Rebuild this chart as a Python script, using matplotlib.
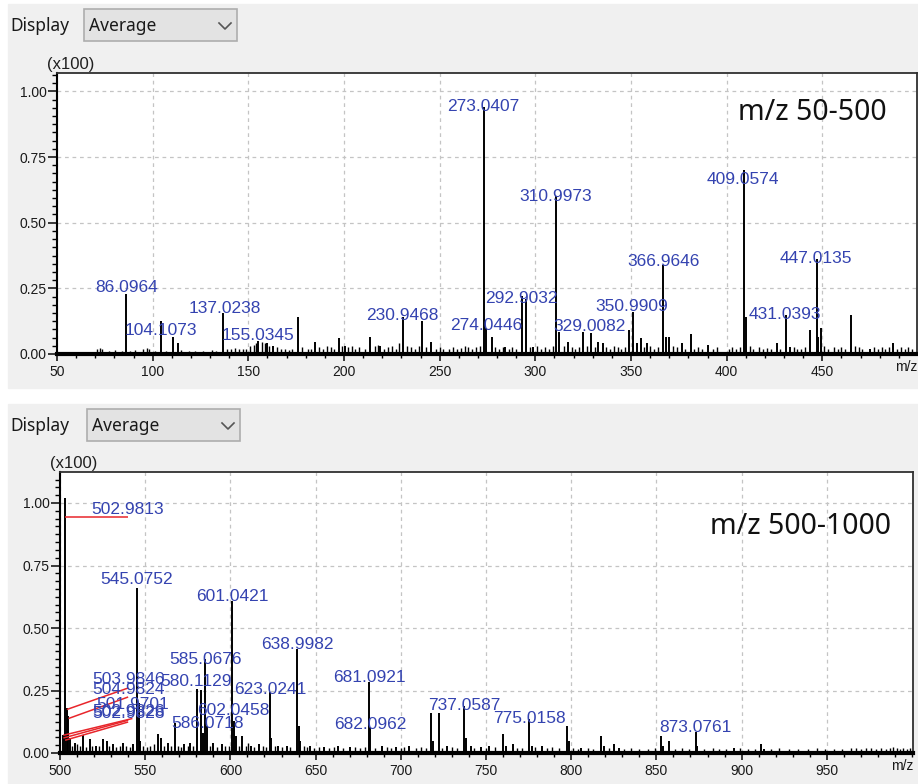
import matplotlib
matplotlib.use('Agg')
import matplotlib.pyplot as plt
from matplotlib.lines import Line2D
from matplotlib.patches import Rectangle
from matplotlib.ticker import MultipleLocator

W, H = 918, 784

# ---------------- m/z 50-500 ----------------
top_mz = [86.0964, 104.1073, 110.8, 113.1, 137.0238, 155.0345, 159.6, 163.0, 175.8, 184.8,
          197.4, 200.7, 213.6, 219.0, 230.9468, 240.6, 245.6, 273.0407, 274.0446, 277.2,
          284.1, 292.9032, 294.9, 298.9, 310.9973, 312.4, 317.3, 325.1, 329.0082, 332.9,
          335.5, 349.0, 350.9909, 353.0, 355.2, 358.2, 366.9646, 368.1, 369.7, 376.5,
          381.2, 390.4, 409.0574, 410.06, 426.1, 431.0393, 433.1, 443.5, 447.0135, 448.0,
          449.1, 464.8, 474.9, 487.1]
top_int = [0.23, 0.125, 0.066, 0.04, 0.157, 0.05, 0.04, 0.03, 0.14, 0.045,
           0.06, 0.03, 0.066, 0.03, 0.14, 0.125, 0.045, 0.94, 0.10, 0.066,
           0.028, 0.22, 0.21, 0.025, 0.60, 0.085, 0.047, 0.085, 0.079, 0.047,
           0.04, 0.09, 0.16, 0.04, 0.06, 0.04, 0.34, 0.066, 0.066, 0.04,
           0.076, 0.035, 0.70, 0.14, 0.04, 0.15, 0.025, 0.09, 0.36, 0.066,
           0.098, 0.149, 0.02, 0.04]

# small peaks making up the baseline
top_noise_mz = [70.9, 72.3, 73.5, 77.0, 80.5, 84.1, 88.0, 91.0, 95.2, 96.9, 98.1, 101.0, 106.9,
                115.0, 118.9, 122.0, 126.1, 130.9, 133.0, 139.0, 141.0, 143.1, 145.0, 147.1,
                149.0, 151.0, 153.0, 154.0, 157.0, 158.9, 161.0, 165.0, 167.1, 169.0, 171.0,
                173.0, 178.0, 181.0, 183.0, 187.0, 189.0, 191.0, 193.0, 195.0, 199.0, 202.0,
                204.0, 206.0, 208.0, 211.0, 216.0, 218.0, 221.0, 223.0, 225.0, 227.0, 229.0,
                233.0, 235.0, 237.0, 239.0, 243.0, 248.0, 250.0, 252.0, 255.0, 257.0, 259.0,
                261.0, 263.0, 265.0, 267.0, 269.0, 271.0, 279.0, 281.0, 283.0, 286.0, 288.0,
                290.0, 297.0, 301.0, 303.0, 305.0, 307.0, 309.0, 315.0, 319.0, 321.0, 323.0,
                327.0, 331.0, 337.0, 339.0, 341.0, 343.0, 345.0, 347.0, 357.0, 360.0, 362.0,
                364.0, 372.0, 374.0, 378.0, 383.0, 385.0, 387.0, 393.0, 395.0, 401.0, 403.0,
                405.0, 407.0, 412.0, 414.0, 417.0, 419.0, 421.0, 423.0, 428.0, 435.0, 437.0,
                439.0, 441.0, 451.0, 453.0, 456.0, 458.0, 460.0, 462.0, 467.0, 469.0, 471.0,
                477.0, 479.0, 481.0, 483.0, 485.0, 489.0, 491.0, 493.0, 495.0, 497.0]
top_noise_int = [0.02, 0.022, 0.018, 0.012, 0.015, 0.01, 0.012, 0.015, 0.02, 0.022, 0.018, 0.01, 0.012,
                 0.015, 0.01, 0.012, 0.01, 0.015, 0.012, 0.02, 0.018, 0.022, 0.02, 0.018,
                 0.02, 0.03, 0.035, 0.04, 0.045, 0.04, 0.03, 0.025, 0.02, 0.02, 0.015,
                 0.02, 0.025, 0.02, 0.02, 0.025, 0.02, 0.03, 0.025, 0.02, 0.03, 0.025,
                 0.03, 0.02, 0.025, 0.02, 0.03, 0.035, 0.02, 0.025, 0.03, 0.02, 0.04,
                 0.03, 0.025, 0.02, 0.03, 0.025, 0.02, 0.025, 0.02, 0.02, 0.025, 0.02,
                 0.022, 0.03, 0.025, 0.02, 0.025, 0.03, 0.025, 0.02, 0.028, 0.02, 0.025,
                 0.02, 0.025, 0.03, 0.02, 0.025, 0.02, 0.03, 0.03, 0.025, 0.02, 0.025,
                 0.03, 0.025, 0.025, 0.02, 0.03, 0.025, 0.02, 0.025, 0.025, 0.03, 0.02,
                 0.025, 0.03, 0.025, 0.02, 0.02, 0.025, 0.02, 0.02, 0.025, 0.02, 0.025,
                 0.02, 0.025, 0.03, 0.02, 0.025, 0.02, 0.022, 0.02, 0.02, 0.025, 0.02,
                 0.02, 0.025, 0.03, 0.02, 0.025, 0.02, 0.025, 0.02, 0.03, 0.025, 0.02,
                 0.025, 0.02, 0.025, 0.02, 0.025, 0.02, 0.025, 0.02, 0.025, 0.02]

top_labels = ['86.0964', '104.1073', '137.0238', '155.0345', '230.9468', '273.0407', '274.0446',
              '292.9032', '310.9973', '329.0082', '350.9909', '366.9646', '409.0574', '431.0393',
              '447.0135']
# where the software put each label (data coords)
top_label_x = [86.4, 104.4, 137.6, 155.3, 230.5, 272.6, 274.5, 292.8, 310.8, 328.6, 350.6,
               366.9, 408.6, 430.2, 446.7]
top_label_y = [0.255, 0.091, 0.175, 0.069, 0.145, 0.941, 0.107, 0.213, 0.598, 0.104, 0.18,
               0.352, 0.663, 0.149, 0.362]

# ---------------- m/z 500-1000 ----------------
bot_mz = [501.97, 502.9813, 503.9846, 504.9824, 506.0, 508.9, 513.3, 517.6, 521.0, 525.4,
          527.4, 531.0, 537.2, 543.0, 545.0752, 546.08, 547.1, 557.7, 559.5, 563.6,
          567.7, 573.0, 576.0, 580.1129, 582.6, 584.0, 585.0676, 586.0718, 590.0, 595.0,
          601.0421, 602.0458, 603.0, 607.0, 612.0, 617.0, 623.0241, 624.0, 628.0, 633.0,
          638.9982, 640.0, 641.0, 647.0, 655.0, 663.0, 670.0, 681.0921, 682.0962, 689.0,
          697.0, 705.0, 717.6, 719.0, 722.2, 727.0, 737.0587, 738.0, 741.0, 747.0,
          752.0, 759.8, 762.0, 765.8, 775.0158, 776.9, 782.7, 797.6, 798.6, 806.0,
          817.4, 819.0, 825.4, 828.0, 852.6, 854.0, 857.6, 873.0761, 874.1, 895.6,
          911.5, 913.0]
bot_int = [0.072, 1.02, 0.18, 0.15, 0.06, 0.04, 0.071, 0.058, 0.03, 0.058,
           0.05, 0.035, 0.04, 0.035, 0.66, 0.20, 0.05, 0.078, 0.06, 0.04,
           0.12, 0.035, 0.04, 0.258, 0.251, 0.08, 0.378, 0.11, 0.04, 0.035,
           0.61, 0.13, 0.07, 0.07, 0.03, 0.035, 0.245, 0.06, 0.03, 0.03,
           0.418, 0.11, 0.05, 0.03, 0.025, 0.03, 0.025, 0.285, 0.10, 0.03,
           0.025, 0.03, 0.16, 0.05, 0.16, 0.03, 0.19, 0.06, 0.03, 0.025,
           0.03, 0.075, 0.03, 0.035, 0.138, 0.03, 0.03, 0.108, 0.05, 0.02,
           0.068, 0.03, 0.035, 0.02, 0.068, 0.03, 0.048, 0.084, 0.03, 0.02,
           0.035, 0.015]

bot_noise_mz = [507.0, 510.0, 511.5, 515.0, 519.0, 523.0, 529.0, 533.0, 535.0, 539.0, 541.0,
                549.0, 551.0, 553.0, 555.0, 561.0, 565.0, 569.5, 571.0, 575.0, 578.0, 588.0,
                592.0, 597.0, 599.0, 605.0, 609.0, 610.5, 614.0, 619.0, 621.0, 626.0, 630.0,
                635.0, 643.0, 645.0, 649.0, 652.0, 658.0, 661.0, 666.0, 673.0, 676.0, 679.0,
                685.0, 692.0, 694.0, 700.0, 702.0, 709.0, 712.0, 715.0, 724.0, 730.0, 733.0,
                743.0, 750.0, 755.0, 768.0, 771.0, 779.0, 786.0, 789.0, 793.0, 801.0, 804.0,
                810.0, 813.0, 822.0, 831.0, 835.0, 840.0, 845.0, 849.0, 861.0, 865.0, 869.0,
                878.0, 883.0, 887.0, 891.0, 899.0, 904.0, 908.0, 917.0, 922.0, 928.0, 933.0,
                939.0, 944.0, 949.0, 954.0, 959.0, 964.0, 967.0, 970.0, 973.0, 976.0, 979.0,
                982.0, 985.0, 987.0, 989.0, 991.0, 993.0, 995.0, 997.0, 999.0]
bot_noise_int = [0.03, 0.035, 0.03, 0.025, 0.03, 0.028, 0.03, 0.025, 0.03, 0.028, 0.025,
                 0.03, 0.025, 0.03, 0.035, 0.03, 0.028, 0.03, 0.025, 0.03, 0.03, 0.03,
                 0.025, 0.03, 0.028, 0.03, 0.03, 0.04, 0.025, 0.03, 0.025, 0.03, 0.025,
                 0.025, 0.03, 0.025, 0.02, 0.025, 0.02, 0.025, 0.02, 0.025, 0.02, 0.025,
                 0.02, 0.025, 0.02, 0.02, 0.025, 0.02, 0.025, 0.02, 0.02, 0.025, 0.02,
                 0.02, 0.02, 0.025, 0.02, 0.02, 0.025, 0.02, 0.025, 0.02, 0.02, 0.015,
                 0.02, 0.015, 0.02, 0.015, 0.02, 0.015, 0.015, 0.02, 0.015, 0.02, 0.015,
                 0.015, 0.02, 0.015, 0.015, 0.02, 0.015, 0.015, 0.015, 0.02, 0.015, 0.015,
                 0.015, 0.02, 0.015, 0.015, 0.015, 0.02, 0.02, 0.015, 0.02, 0.02, 0.015,
                 0.02, 0.015, 0.02, 0.025, 0.02, 0.015, 0.02, 0.015, 0.02]

bot_labels = ['545.0752', '601.0421', '585.0676', '580.1129', '623.0241', '602.0458', '586.0718',
              '638.9982', '681.0921', '682.0962', '737.0587', '775.0158', '873.0761']
bot_label_x = [545.0, 601.2, 585.3, 580.0, 623.2, 602.0, 586.5, 639.4, 681.8, 682.4, 737.0,
               775.3, 873.2]
bot_label_y = [0.696, 0.625, 0.375, 0.284, 0.255, 0.171, 0.118, 0.434, 0.304, 0.115, 0.191,
               0.139, 0.104]

# labels moved aside by the software, tied to their peak with a red line
lead_labels = ['502.9813', '503.9846', '504.9824', '501.9701', '502.9826', '502.9828']
lead_peak_mz = [502.98, 503.98, 504.98, 501.97, 502.0, 503.0]
lead_peak_y = [0.945, 0.174, 0.138, 0.071, 0.060, 0.051]
lead_text_x = [539.7, 540.0, 540.0, 542.5, 540.0, 540.0]
lead_text_y = [0.972, 0.295, 0.255, 0.195, 0.166, 0.158]
lead_end_y = [0.945, 0.26, 0.224, 0.138, 0.131, 0.124]

LABEL_BLUE = '#3443b0'
PANEL_GREY = '#f0f0f0'


def fig_rect(x0, y0, x1, y1):
    return [x0 / W, 1 - y1 / H, (x1 - x0) / W, (y1 - y0) / H]


def ui_header(fig, y_off, box_x0):
    # grey panel, "Display" + drop-down box
    fig.add_artist(Rectangle((8 / W, 1 - (y_off + 384) / H), 910 / W, 384 / H,
                             transform=fig.transFigure, color=PANEL_GREY, zorder=0))
    fig.text(10 / W, 1 - (y_off + 22) / H, 'Display', family='Noto Sans', fontsize=12.5,
             color='#1a1a1a', va='center', ha='left')
    fig.add_artist(Rectangle((box_x0 / W, 1 - (y_off + 37) / H), 153 / W, 32 / H,
                             transform=fig.transFigure, facecolor='#e3e3e3',
                             edgecolor='#adadad', lw=1.2, zorder=1))
    fig.text((box_x0 + 5) / W, 1 - (y_off + 22) / H, 'Average', family='Noto Sans',
             fontsize=12.5, color='#1a1a1a', va='center', ha='left')
    cx = box_x0 + 141
    fig.add_artist(Line2D([(cx - 6) / W, cx / W, (cx + 6) / W],
                          [1 - (y_off + 19) / H, 1 - (y_off + 25) / H, 1 - (y_off + 19) / H],
                          transform=fig.transFigure, color='#555555', lw=1.2))


def spectrum(fig, rect, xlim, ymax, xticks, mz, inten, noise_mz, noise_int,
             labels, lab_x, lab_y, range_text, range_xy):
    ax = fig.add_axes(fig_rect(*rect))
    ax.set_facecolor('white')
    ax.set_axisbelow(True)
    ax.vlines(noise_mz, 0, noise_int, color='black', lw=1.0)
    ax.vlines(mz, 0, inten, color='black', lw=1.4)
    ax.set_xlim(*xlim)
    ax.set_ylim(0, ymax)

    ax.set_xticks(xticks)
    ax.set_xticklabels([str(t) for t in xticks])
    ax.xaxis.set_minor_locator(MultipleLocator(10))
    ax.set_yticks([0, 0.25, 0.5, 0.75, 1.0])
    ax.set_yticklabels(['0.00', '0.25', '0.50', '0.75', '1.00'])
    ax.yaxis.set_minor_locator(MultipleLocator(0.03125))
    ax.tick_params(axis='x', which='major', length=5, width=1.2, direction='out',
                   labelsize=10, pad=3, colors='#1a1a1a')
    ax.tick_params(axis='x', which='minor', length=3, width=1.0, direction='out')
    ax.tick_params(axis='y', which='major', length=6.5, width=1.2, direction='out',
                   labelsize=10, pad=1, colors='#1a1a1a')
    ax.tick_params(axis='y', which='minor', length=3.5, width=1.0, direction='out')
    for lab in ax.get_xticklabels() + ax.get_yticklabels():
        lab.set_family('Liberation Sans')

    ax.grid(True, which='major', ls=(0, (3, 3)), color='#c4c4c4', lw=0.9)
    ax.spines['bottom'].set_linewidth(3)
    ax.spines['left'].set_linewidth(1.5)
    for side in ('top', 'right'):
        ax.spines[side].set_linewidth(1.3)
        ax.spines[side].set_color('#303030')

    for s, x, y in zip(labels, lab_x, lab_y):
        ax.text(x, y, s, color=LABEL_BLUE, fontsize=12.5, family='Liberation Sans',
                ha='center', va='center')

    # axis unit in place of the last tick label, and the "(x100)" scale note
    ax.text(1.0, -0.045, 'm/z', transform=ax.transAxes, ha='right', va='center',
            fontsize=10, family='Liberation Sans', color='#1a1a1a')
    ax.text(-0.012, 1.005, '(x100)', transform=ax.transAxes, ha='left', va='bottom',
            fontsize=12, family='Liberation Sans', color='#202020')
    fig.text(range_xy[0] / W, 1 - range_xy[1] / H, range_text, family='Noto Sans',
             fontsize=20.5, color='#111111', ha='center', va='center')
    return ax


fig = plt.figure(figsize=(W / 100, H / 100), dpi=100)
fig.patch.set_facecolor('white')

ui_header(fig, 4, 84)
ui_header(fig, 404, 87)

spectrum(fig, (57, 73, 917, 354), (50, 499.5), 1.07, list(range(50, 451, 50)),
         top_mz, top_int, top_noise_mz, top_noise_int,
         top_labels, top_label_x, top_label_y, 'm/z 50-500', (812, 113))

ax2 = spectrum(fig, (60, 472, 913, 753), (500, 1000.6), 1.124, list(range(500, 951, 50)),
               bot_mz, bot_int, bot_noise_mz, bot_noise_int,
               bot_labels, bot_label_x, bot_label_y, 'm/z 500-1000', (801, 526))

for s, px, py, tx, ty, ey in zip(lead_labels, lead_peak_mz, lead_peak_y,
                                 lead_text_x, lead_text_y, lead_end_y):
    ax2.plot([px, tx], [py, ey], color='#e8262b', lw=1.1, solid_capstyle='butt')
    ax2.text(tx, ty, s, color=LABEL_BLUE, fontsize=12.5, family='Liberation Sans',
             ha='center', va='center')

fig.savefig('out.png', dpi=100, facecolor=fig.get_facecolor())
